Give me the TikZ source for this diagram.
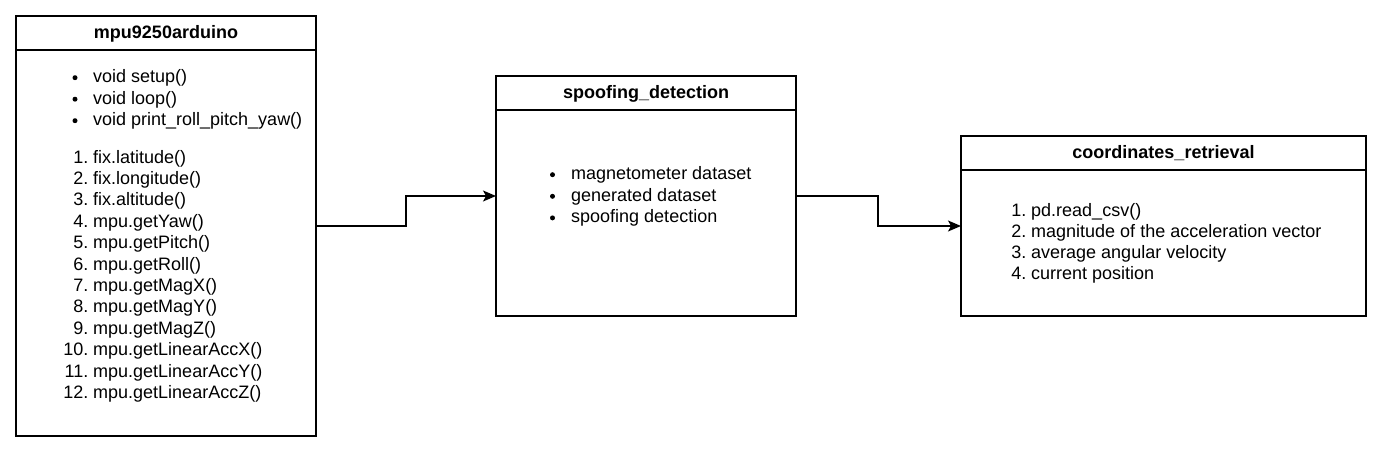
\documentclass[tikz,border=0pt]{standalone}
\usepackage{fontspec}
\setmainfont{Liberation Sans}
\usetikzlibrary{arrows.meta}
\begin{document}
\begin{tikzpicture}[x=1pt,y=-1pt,
  body/.style={draw,line width=1.3pt,inner sep=0pt,outer sep=0pt,anchor=north west,fill=white},
  head/.style={draw,line width=1.3pt,inner sep=0pt,outer sep=0pt,anchor=north west,minimum height=34pt},
  htext/.style={anchor=base,font=\fontsize{18}{21.5}\selectfont\bfseries,inner sep=0pt},
  itext/.style={anchor=base west,font=\fontsize{18}{21.5}\selectfont,inner sep=0pt},
  ntext/.style={anchor=base east,font=\fontsize{18}{21.5}\selectfont,inner sep=0pt},
  bdot/.style={circle,fill=black,inner sep=0pt,minimum size=5pt},
  conn/.style={line width=1.3pt,-{Stealth[length=13pt,width=11pt,inset=3pt]}}]
\useasboundingbox (0,0) rectangle (1382,452);
\fill[white] (0,0) rectangle (1382,452);

% box 1
\node[body,minimum width=300pt,minimum height=420pt] (b1) at (16,16) {};
\node[head,minimum width=300pt] (h1) at (16,16) {};
\node[htext] (t1) at (166,38.7) {mpu9250arduino};
\foreach \t [count=\i] in {void setup(),void loop(),void print\_roll\_pitch\_yaw()}{
  \node[bdot] (b1m\i) at (75,{82.5+21.5*(\i-1)-4.8}) {};
  \node[itext] (b1t\i) at (93,{82.5+21.5*(\i-1)}) {\t};
}
\foreach \t [count=\i] in {fix.latitude(),fix.longitude(),fix.altitude(),mpu.getYaw(),mpu.getPitch(),mpu.getRoll(),mpu.getMagX(),mpu.getMagY(),mpu.getMagZ(),mpu.getLinearAccX(),mpu.getLinearAccY(),mpu.getLinearAccZ()}{
  \node[ntext] (b1n\i) at (88.5,{163+21.4*(\i-1)}) {\i.};
  \node[itext] (b1u\i) at (93,{163+21.4*(\i-1)}) {\t};
}

% box 2
\node[body,minimum width=300pt,minimum height=240pt] (b2) at (496,76) {};
\node[head,minimum width=300pt] (h2) at (496,76) {};
\node[htext] (t2) at (646,98.7) {spoofing\_detection};
\foreach \t [count=\i] in {magnetometer dataset,generated dataset,spoofing detection}{
  \node[bdot] (b2m\i) at (552.5,{179.5+21.6*(\i-1)-4.8}) {};
  \node[itext] (b2t\i) at (571,{179.5+21.6*(\i-1)}) {\t};
}

% box 3
\node[body,minimum width=405pt,minimum height=180pt] (b3) at (961,136) {};
\node[head,minimum width=405pt] (h3) at (961,136) {};
\node[htext] (t3) at (1163.5,158.7) {coordinates\_retrieval};
\foreach \t [count=\i] in {pd.read\_csv(),magnitude of the acceleration vector,average angular velocity,current position}{
  \node[ntext] (b3n\i) at (1026.5,{216+21*(\i-1)}) {\i.};
  \node[itext] (b3t\i) at (1031,{216+21*(\i-1)}) {\t};
}

% connectors
\coordinate (m1) at (406,226);
\coordinate (m2) at (878,196);
\draw[conn] (b1.east) -- (b1.east -| m1) |- (b2.west);
\draw[conn] (b2.east) -- (b2.east -| m2) |- (b3.west);
\end{tikzpicture}
\end{document}
